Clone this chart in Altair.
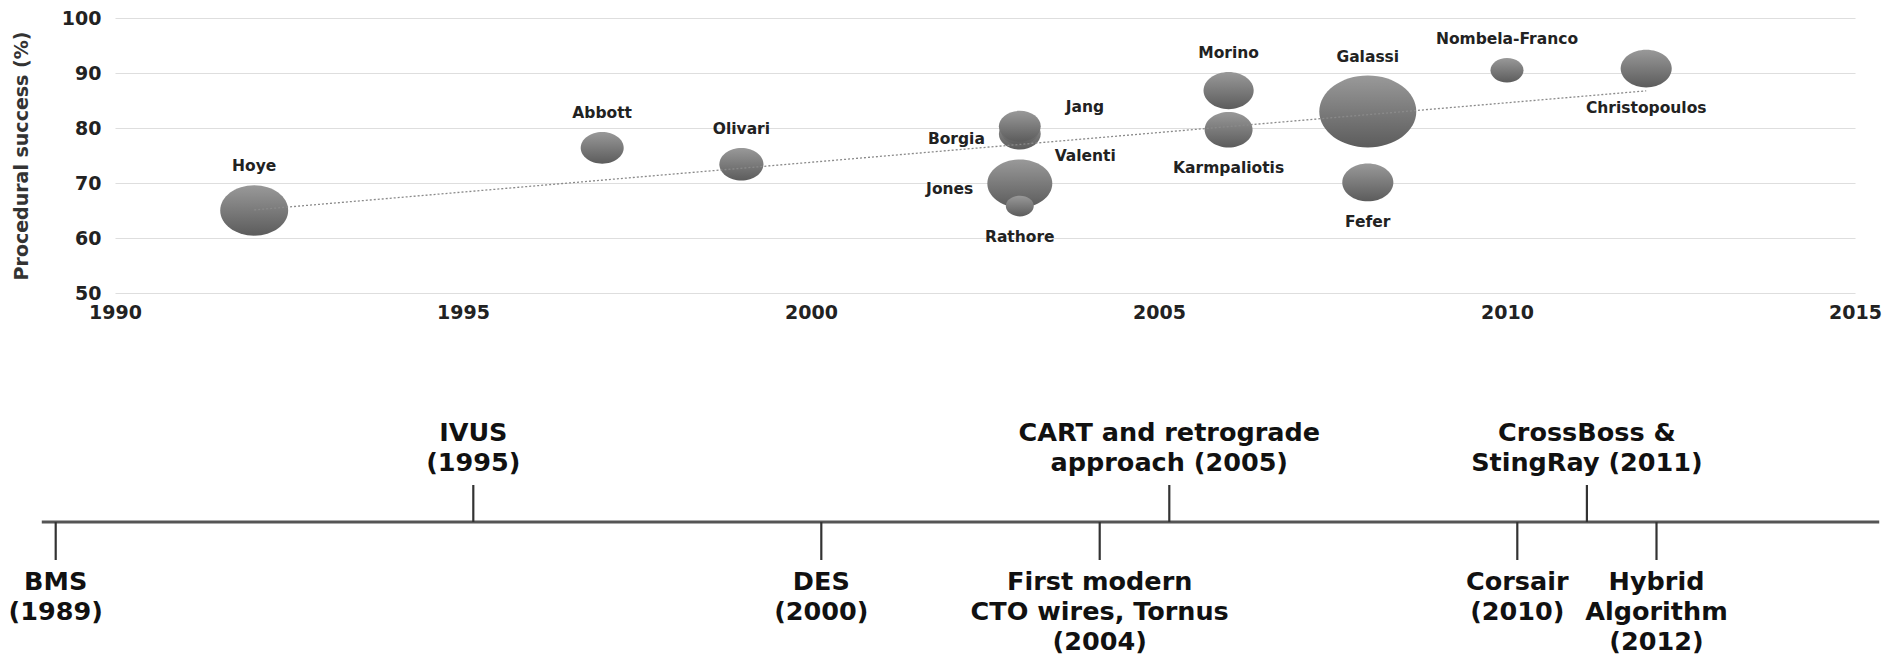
import altair as alt
import pandas as pd

# ---------------- data: CTO PCI studies (bubble chart) ----------------
authors = ["Hoye", "Abbott", "Olivari", "Borgia", "Valenti", "Jang", "Jones", "Rathore",
           "Morino", "Karmpaliotis", "Galassi", "Fefer", "Nombela-Franco", "Christopoulos"]
pub_year = [1992, 1997, 1999, 2003, 2003, 2003, 2003, 2003, 2006, 2006, 2008, 2008, 2010, 2012]
success_pct = [65.0, 76.4, 73.4, 78.9, 79.5, 80.3, 69.9, 65.8, 86.8, 79.7, 83.0, 70.1, 90.5, 90.8]
patients = [975, 390, 410, 370, 300, 370, 890, 165, 530, 485, 1985, 550, 230, 550]

x_ticks = [1990, 1995, 2000, 2005, 2010, 2015]
y_ticks = [50, 60, 70, 80, 90, 100]

# ---------------- data: technology timeline ----------------
milestones = ["BMS\n(1989)", "IVUS\n(1995)", "DES\n(2000)",
              "First modern\nCTO wires, Tornus\n(2004)",
              "CART and retrograde\napproach (2005)", "Corsair\n(2010)",
              "CrossBoss &\nStingRay (2011)", "Hybrid\nAlgorithm\n(2012)"]
milestone_year = [1989, 1995, 2000, 2004, 2005, 2010, 2011, 2012]
milestone_side = ["below", "above", "below", "below", "above", "below", "above", "below"]
timeline_span = [1988.8, 2015.2]
timeline_domain = [1989.852, 2014.852]

# ---------------- styling ----------------
W, H = 1740, 275
X_DOMAIN = [1990, 2015]
Y_DOMAIN = [50, 100]
ASPECT = 0.74
MAX_N = 2000
MAX_AREA = 9480
AREA_PER_N = MAX_AREA / MAX_N
ELLIPSE = f"M -1 0 A 1 {ASPECT} 0 1 0 1 0 A 1 {ASPECT} 0 1 0 -1 0 Z"
PX_TO_YEAR = (X_DOMAIN[1] - X_DOMAIN[0]) / W
PX_TO_PCT = (Y_DOMAIN[1] - Y_DOMAIN[0]) / H

label_place = {"Hoye": "above", "Abbott": "above", "Olivari": "above", "Borgia": "left",
               "Valenti": "rightdown", "Jang": "rightup", "Jones": "left", "Rathore": "below",
               "Morino": "above", "Karmpaliotis": "below", "Galassi": "above", "Fefer": "below",
               "Nombela-Franco": "above", "Christopoulos": "below"}

LINE_Y = 504
UP_TICK_TOP = 467
DOWN_TICK_BOTTOM = 542
UP_TEXT_Y = 422.5
DOWN_TEXT_Y = 572
LINE_H = 30

studies = pd.DataFrame({"author": authors, "year": pub_year,
                        "success": success_pct, "n": patients})
studies["place"] = studies["author"].map(label_place)

xs = alt.Scale(domain=X_DOMAIN, nice=False, zero=False)
ys = alt.Scale(domain=Y_DOMAIN, nice=False, zero=False)

x_axis = alt.Axis(values=x_ticks, format="d", title=None, grid=False,
                  labelPadding=10, labelFlush=False)
y_axis = alt.Axis(values=y_ticks, title="Procedural success (%)", grid=True,
                  labelPadding=14, titlePadding=30)
x_top = alt.X("year:Q", scale=xs, axis=x_axis)
y_top = alt.Y("success:Q", scale=ys, axis=y_axis)

grad = alt.LinearGradient(
    gradient="linear",
    stops=[alt.GradientStop(color="#999999", offset=0),
           alt.GradientStop(color="#5c5c5c", offset=1)],
    x1=0, x2=0, y1=0, y2=1)

bubbles = alt.Chart(studies).mark_point(
    shape=ELLIPSE, filled=True, fill=grad, opacity=1, strokeWidth=0
).encode(
    x=x_top, y=y_top,
    size=alt.Size("n:Q", scale=alt.Scale(domain=[0, MAX_N], range=[0, MAX_AREA]), legend=None),
)

trend = alt.Chart(studies).transform_regression("year", "success").mark_line(
    color="#8a8a8a", strokeWidth=1.3, strokeDash=[2, 2]
).encode(x=x_top, y=y_top)

# label anchor = bubble centre pushed out by the bubble's pixel radius plus a gap
lab = alt.Chart(studies).transform_calculate(
    rh=f"sqrt(datum.n * {AREA_PER_N}) / 2",
    rv=f"datum.rh * {ASPECT}",
    dy=("datum.place == 'above' ? -(datum.rv + 19) : datum.place == 'below' ? datum.rv + 21 : "
        "datum.place == 'left' ? 5 : datum.place == 'rightup' ? -19 : 25"),
    dx=("datum.place == 'left' ? -(datum.rh + 14) : datum.place == 'rightup' ? datum.rh + 25 : "
        "datum.place == 'rightdown' ? datum.rh + 16 : 0"),
    lx=f"datum.year + datum.dx * {PX_TO_YEAR}",
    ly=f"datum.success - datum.dy * {PX_TO_PCT}",
)
lab_font = dict(font="DejaVu Sans", fontWeight="bold", fontSize=15.5, color="#222222")
lab_x = alt.X("lx:Q", scale=xs, axis=x_axis)
lab_y = alt.Y("ly:Q", scale=ys, axis=y_axis)

lab_center = lab.transform_filter("datum.place == 'above' || datum.place == 'below'").mark_text(
    align="center", baseline="middle", **lab_font
).encode(x=lab_x, y=lab_y, text="author:N")

lab_left = lab.transform_filter("datum.place == 'left'").mark_text(
    align="right", baseline="middle", **lab_font
).encode(x=lab_x, y=lab_y, text="author:N")

lab_right = lab.transform_filter("datum.place == 'rightup' || datum.place == 'rightdown'").mark_text(
    align="left", baseline="middle", **lab_font
).encode(x=lab_x, y=lab_y, text="author:N")

top = alt.layer(bubbles, trend, lab_center, lab_left, lab_right)

# ---------------- timeline ----------------
events = pd.DataFrame({"label": milestones, "year": milestone_year, "side": milestone_side})
span = pd.DataFrame({"start": [timeline_span[0]], "end": [timeline_span[1]]})
xt = alt.Scale(domain=timeline_domain, nice=False, zero=False)
tl_x = alt.X("year:Q", scale=xt, axis=None)

spine = alt.Chart(span).mark_rule(color="#555555", strokeWidth=3).encode(
    x=alt.X("start:Q", scale=xt, axis=None), x2="end:Q", y=alt.value(LINE_Y))

ticks_up = alt.Chart(events).transform_filter("datum.side == 'above'").mark_rule(
    color="#333333", strokeWidth=2.2).encode(x=tl_x, y=alt.value(UP_TICK_TOP), y2=alt.value(LINE_Y))
ticks_down = alt.Chart(events).transform_filter("datum.side == 'below'").mark_rule(
    color="#333333", strokeWidth=2.2).encode(x=tl_x, y=alt.value(LINE_Y), y2=alt.value(DOWN_TICK_BOTTOM))

tl_font = dict(font="DejaVu Sans", fontWeight="bold", fontSize=25.5, lineHeight=LINE_H,
               color="#111111", lineBreak="\n", align="center", baseline="alphabetic")
text_up = alt.Chart(events).transform_filter("datum.side == 'above'").mark_text(**tl_font).encode(
    x=tl_x, y=alt.value(UP_TEXT_Y), text="label:N")
text_down = alt.Chart(events).transform_filter("datum.side == 'below'").mark_text(**tl_font).encode(
    x=tl_x, y=alt.value(DOWN_TEXT_Y), text="label:N")

timeline = alt.layer(spine, ticks_up, ticks_down, text_up, text_down)

chart = alt.layer(top, timeline).resolve_scale(x="independent").properties(
    width=W, height=H,
    padding={"left": 0, "top": 1, "right": 0, "bottom": 0},
    background="white",
).configure_view(stroke=None).configure_axis(
    labelFont="DejaVu Sans", labelFontWeight="bold", labelFontSize=19, labelColor="#222222",
    titleFont="DejaVu Sans", titleFontWeight="bold", titleFontSize=19, titleColor="#333333",
    gridColor="#dedede", gridWidth=1.2, domain=False, ticks=False,
)

chart.save("out.html", embed_options={"renderer": "svg", "actions": False})
